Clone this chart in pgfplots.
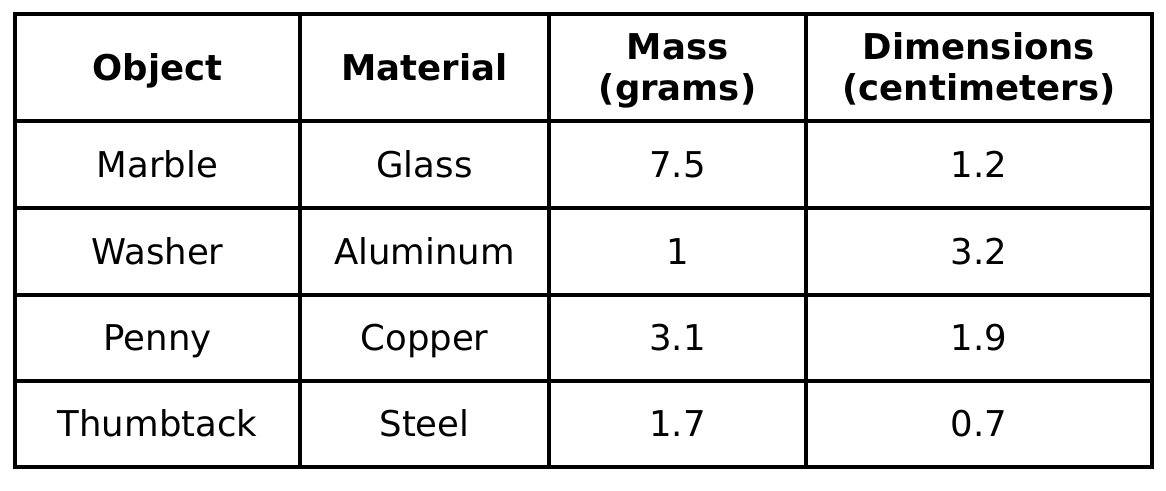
\documentclass[border=0pt]{standalone}
\usepackage{pgfplots}
\pgfplotsset{compat=1.18}
\usepackage{pgfplotstable}
\usepackage{fontspec}
\setmainfont{DejaVu Sans}
\pgfplotstableread[col sep=comma]{
x,y,label
157.5,164.5,Marble
424.5,164.5,Glass
677.5,164.5,7.5
979,164.5,1.2
157.5,251.5,Washer
424.5,251.5,Aluminum
677.5,251.5,1
979,251.5,3.2
157.5,338,Penny
424.5,338,Copper
677.5,338,3.1
979,338,1.9
157.5,424,Thumbtack
424.5,424,Steel
677.5,424,1.7
979,424,0.7
}\bodytable
\pgfplotstableread[col sep=comma]{
x,y,label
157.5,68,Object
424.5,68,Material
677.5,47,Mass
677.5,88,(grams)
979,47,Dimensions
979,88,(centimeters)
}\headtable
\begin{document}
\begin{tikzpicture}
\begin{axis}[
  scale only axis, width=1166pt, height=490pt,
  xmin=0, xmax=1166, ymin=0, ymax=490, y dir=reverse,
  hide axis, clip=false,
  every node near coord/.style={anchor=center, inner sep=0pt, text height=25pt, text depth=0pt, font=\fontsize{35.5}{40}\selectfont, black},
]
\path (axis cs:0,0) rectangle (axis cs:1166,490);
% grid
\draw[line width=3.2pt, black] (axis cs:15,14) rectangle (axis cs:1152,467);
\draw[line width=3.2pt, black] (axis cs:15,121) -- (axis cs:1152,121);
\draw[line width=3.2pt, black] (axis cs:15,208) -- (axis cs:1152,208);
\draw[line width=3.2pt, black] (axis cs:15,295) -- (axis cs:1152,295);
\draw[line width=3.2pt, black] (axis cs:15,381) -- (axis cs:1152,381);
\draw[line width=3.2pt, black] (axis cs:300,14) -- (axis cs:300,467);
\draw[line width=3.2pt, black] (axis cs:549,14) -- (axis cs:549,467);
\draw[line width=3.2pt, black] (axis cs:806,14) -- (axis cs:806,467);
\addplot[draw=none, mark=none, nodes near coords={\pgfplotspointmeta}, point meta=explicit symbolic] table[x=x, y=y, meta=label] {\bodytable};
\addplot[draw=none, mark=none, nodes near coords={\bfseries\pgfplotspointmeta}, point meta=explicit symbolic] table[x=x, y=y, meta=label] {\headtable};
\end{axis}
\end{tikzpicture}
\end{document}
